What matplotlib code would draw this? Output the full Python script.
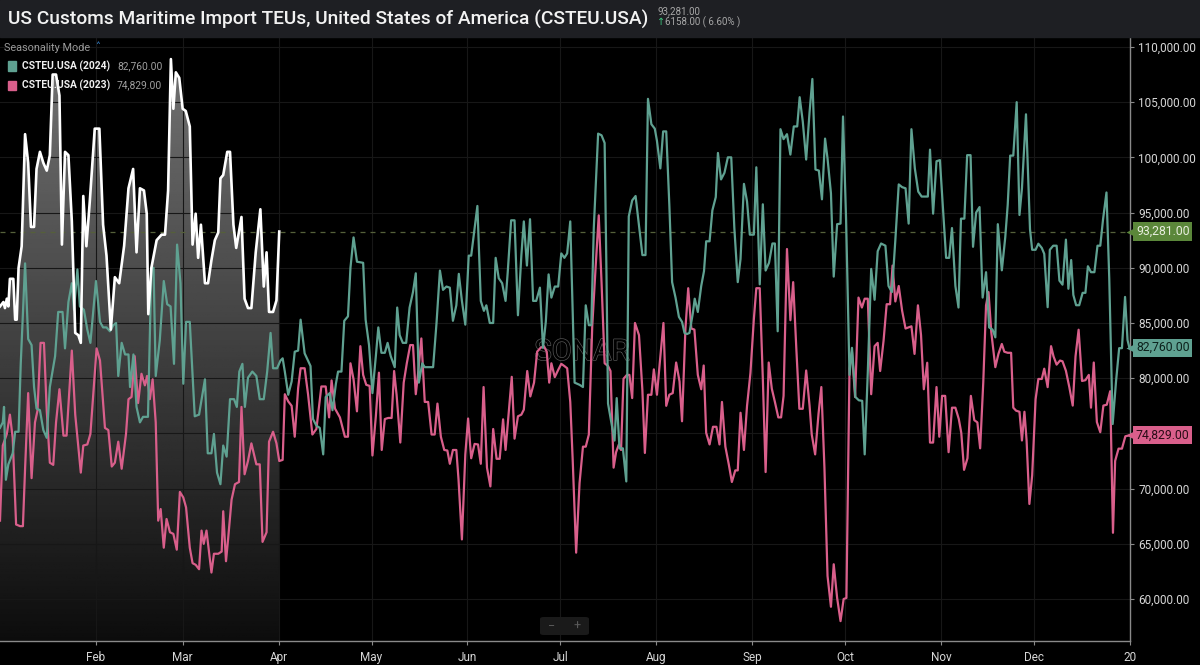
import numpy as np
import matplotlib
matplotlib.use('agg')
import matplotlib.pyplot as plt
import matplotlib.transforms as mtransforms
import matplotlib.patheffects as pe
from matplotlib.patches import Rectangle, Polygon, FancyBboxPatch

# day of year (0 = Jan 1) and daily TEUs
days_2025 = [0, 1.1, 1.6, 2.2, 2.7, 3.2, 4.3, 4.9, 5.4, 6.0, 7.0, 8.1, 9.1, 10.0, 11.0, 11.8, 12.9, 14.0, 15.1, 16.1,
             17.0, 18.1, 19.2, 20.0, 21.0, 22.1, 23.2, 24.3, 25.3, 26.1, 26.9, 27.9, 29.0, 30.6, 32.1, 33.3, 34.4, 35.8, 37.1, 38.5,
             40.1, 41.5, 43.0, 44.1, 45.2, 46.5, 47.4, 47.9, 48.9, 50.6, 52.2, 53.3, 54.3, 55.2, 56.0, 56.8, 57.9, 59.0, 60.0, 61.3,
             62.2, 63.2, 64.0, 64.9, 66.2, 67.2, 68.3, 69.4, 70.5, 71.2, 72.1, 73.4, 74.3, 75.4, 76.3, 78.0, 79.0, 80.1, 81.2, 82.6,
             84.1, 85.2, 86.1, 86.9, 88.2, 89.3, 90.2]
teu_2025 = [86500, 86900, 86350, 87200, 86500, 89000, 89000, 85300, 85300, 90000, 91950, 102100, 99500, 93700, 93700, 98950, 100500, 99500, 98800, 100200,
            107500, 107500, 105600, 92100, 100500, 100200, 94200, 84100, 83900, 83200, 96500, 91950, 96000, 102600, 102600, 93900, 91100, 84400, 89150, 88600,
            92000, 97200, 98950, 91400, 97200, 97000, 94900, 85800, 90000, 92500, 93000, 93000, 97000, 108900, 104400, 107700, 107200, 104400, 104200, 102800,
            92100, 94900, 90900, 93900, 88600, 88600, 90700, 92500, 93200, 98100, 98400, 100500, 100500, 93900, 91800, 94600, 87200, 86350, 86350, 91400,
            95300, 88300, 91400, 86000, 86000, 87050, 93281]

days_2024 = [0, 0.9, 1.3, 1.9, 2.7, 4.1, 4.9, 6.0, 6.7, 8.1, 9.1, 10.2, 11.0, 11.8, 12.9, 14.0, 15.1, 16.1, 17.8, 18.8,
             20.2, 21.0, 22.1, 23.2, 23.9, 25.0, 25.8, 27.1, 28.2, 29.2, 31.0, 32.3, 33.3, 34.4, 35.5, 36.6, 37.5, 38.2, 39.3, 40.4,
             41.5, 42.0, 43.1, 44.1, 45.2, 46.2, 47.8, 48.9, 49.6, 50.3, 51.6, 52.9, 54.0, 55.1, 56.2, 57.2, 58.3, 59.2, 60.1, 61.3,
             62.9, 64.3, 66.2, 67.1, 68.3, 69.1, 70.1, 71.2, 72.1, 73.2, 74.3, 75.6, 76.5, 77.3, 78.3, 79.1, 80.1, 81.5, 82.8, 83.9,
             85.2, 86.3, 87.4, 88.2, 89.5, 90.6, 91.3, 92.0, 93.1, 94.2, 95.2, 96.3, 97.1, 98.4, 100.3, 101.1, 102.2, 103.3, 104.4, 105.2,
             106.5, 107.4, 108.5, 109.2, 110.3, 111.2, 112.4, 113.2, 114.2, 115.3, 117.3, 118.1, 119.2, 120.3, 121.4, 122.2, 123.2, 124.3, 125.2, 126.2,
             127.5, 128.3, 129.1, 130.1, 131.2, 132.3, 133.4, 134.3, 135.3, 136.4, 137.2, 139.9, 141.0, 142.1, 143.1, 144.2, 145.3, 146.3, 147.4, 148.2,
             149.2, 150.3, 151.4, 152.2, 153.3, 154.2, 155.3, 156.3, 157.1, 158.2, 159.3, 160.1, 161.1, 162.2, 163.3, 164.0, 165.1, 166.2, 167.3, 168.4,
             169.2, 170.2, 171.2, 172.2, 173.2, 174.4, 175.4, 176.3, 177.2, 178.1, 179.2, 180.3, 181.3, 182.3, 183.2, 184.2, 185.6, 187.2, 188.3, 189.2,
             190.2, 191.0, 191.8, 193.2, 194.3, 195.3, 195.9, 196.4, 197.4, 198.5, 199.2, 200.1, 201.2, 202.3, 203.1, 204.2, 205.3, 206.4, 207.5, 208.5,
             209.3, 210.4, 211.5, 212.2, 213.3, 214.2, 215.2, 216.2, 217.1, 218.2, 219.3, 220.3, 221.1, 221.9, 222.7, 223.8, 224.4, 225.4, 226.5, 227.4,
             228.1, 229.2, 230.1, 231.2, 231.9, 232.9, 234.0, 235.1, 236.2, 237.2, 238.3, 239.2, 240.3, 241.3, 242.2, 243.5, 244.3, 245.4, 246.4, 247.3,
             248.4, 249.5, 250.3, 251.2, 252.1, 253.1, 254.2, 255.3, 256.4, 257.5, 258.3, 259.3, 260.4, 261.5, 262.4, 263.4, 264.5, 265.5, 266.5, 267.3,
             268.4, 269.3, 270.4, 271.5, 272.3, 273.3, 274.4, 275.2, 276.3, 277.4, 278.5, 279.3, 280.3, 281.4, 282.5, 283.5, 284.6, 286.0, 287.0, 288.1,
             289.2, 290.3, 291.4, 292.5, 293.5, 294.4, 295.5, 296.6, 297.7, 299.7, 300.4, 301.4, 302.5, 303.6, 304.7, 305.6, 306.6, 307.5, 308.6, 309.6,
             310.4, 311.5, 312.4, 313.5, 314.3, 315.3, 316.4, 317.4, 318.5, 319.5, 320.6, 321.5, 322.3, 323.6, 324.7, 325.5, 326.3, 327.3, 328.4, 329.3,
             330.1, 331.4, 332.2, 332.7, 333.4, 334.5, 335.4, 336.5, 337.3, 338.4, 339.1, 340.2, 341.3, 342.2, 343.2, 344.3, 345.1, 346.0, 346.7, 347.6,
             348.6, 349.7, 350.6, 351.4, 352.4, 353.5, 354.5, 355.4, 356.3, 357.4, 358.3, 359.4, 360.5, 361.5, 362.4, 363.4, 364.2, 364.8]
teu_2024 = [75500, 76000, 77400, 70800, 72200, 73200, 75150, 75150, 81300, 90400, 83550, 83000, 79200, 77250, 77100, 75300, 74600, 79200, 82000, 86000,
            86000, 82700, 86900, 88600, 86200, 89850, 86500, 86200, 84400, 83200, 88800, 85100, 84600, 84600, 84250, 84800, 85000, 80200, 83200, 82150,
            82150, 79200, 82150, 77400, 76000, 76500, 76500, 90000, 90000, 80200, 83400, 88800, 86700, 86500, 81300, 92100, 88600, 79500, 85100, 85100,
            76550, 76700, 79900, 73200, 73200, 74950, 71450, 70400, 73900, 72900, 78100, 78100, 77400, 80600, 81300, 77400, 80050, 80600, 80200, 78100,
            78100, 80600, 84100, 80900, 80900, 81600, 81800, 80600, 78500, 79700, 82400, 82500, 85300, 82250, 81100, 76300, 75700, 75500, 73100, 78300,
            78650, 77100, 79500, 80600, 80600, 85200, 85600, 90000, 92750, 90550, 90450, 85300, 83000, 78650, 82000, 84600, 82300, 82300, 83200, 82000,
            81000, 86400, 83900, 83200, 83200, 86400, 87800, 89500, 79600, 81350, 81000, 81000, 85000, 89750, 88000, 88300, 88200, 85200, 86600, 89450,
            87000, 84850, 91100, 91100, 93600, 95600, 87000, 86100, 86600, 85000, 85000, 90900, 89050, 88600, 87000, 89600, 94300, 94300, 85700, 91100,
            94200, 90200, 94400, 87000, 87000, 88200, 82750, 85100, 89400, 87300, 88300, 88300, 91300, 90900, 91300, 94200, 79600, 79400, 79200, 86600,
            84800, 84800, 93600, 102150, 102000, 101300, 89400, 77700, 76100, 74350, 78200, 73650, 73650, 70650, 94650, 96100, 96500, 93800, 91150, 91150,
            105300, 103000, 102600, 101500, 99000, 102350, 102350, 95700, 88700, 87300, 85550, 85100, 84100, 84000, 84100, 85900, 87200, 86000, 88350, 89700,
            92400, 92400, 95200, 96400, 100400, 98000, 98600, 100000, 100000, 93600, 88700, 90800, 97600, 96000, 93000, 93000, 99100, 88500, 95750, 89750,
            90450, 92200, 92200, 84250, 102550, 101650, 102100, 100250, 102800, 102800, 105450, 103250, 99800, 104100, 107100, 98900, 98800, 96200, 101700, 99900,
            96750, 89200, 93950, 94000, 103700, 94300, 80300, 82750, 78300, 78000, 77950, 73100, 80500, 89900, 87100, 91500, 92200, 92000, 88350, 87800,
            92500, 97550, 97300, 97200, 94000, 102550, 99000, 96900, 96450, 96450, 100700, 94900, 99650, 99750, 94800, 90900, 90900, 93600, 88350, 86400,
            94450, 94450, 100200, 100200, 91900, 95000, 95500, 87300, 89600, 84600, 84400, 83700, 93950, 89770, 92740, 95700, 100160, 100160, 105000, 94780,
            97200, 103900, 97560, 93480, 91630, 91630, 92180, 91800, 91260, 86430, 91630, 92000, 92000, 88840, 88470, 92550, 88100, 90700, 87540, 86610,
            86610, 87730, 87730, 90140, 89600, 89600, 92000, 92000, 94400, 96820, 89030, 75850, 79750, 82720, 82720, 87360, 83460, 82760]

days_2023 = [0, 0.9, 2.2, 3.2, 4.1, 5.2, 6.5, 7.4, 8.1, 9.1, 10.2, 11.3, 12.1, 13.1, 14.2, 15.1, 16.1, 17.2, 18.1, 19.2,
             20.5, 21.5, 23.2, 24.3, 26.1, 26.9, 28.2, 29.2, 31.2, 32.3, 33.9, 35.0, 36.1, 37.1, 38.2, 39.3, 40.7, 41.5, 42.5, 43.5,
             44.6, 45.7, 46.8, 47.5, 48.4, 49.3, 50.3, 51.1, 51.9, 52.9, 53.8, 54.9, 56.0, 57.1, 58.1, 59.2, 60.1, 61.3, 62.2, 63.2,
             64.3, 65.1, 65.8, 66.7, 67.6, 68.3, 69.1, 70.5, 71.6, 72.1, 73.0, 73.7, 74.8, 75.9, 77.2, 78.0, 79.0, 80.1, 81.2, 82.8,
             83.9, 84.8, 86.1, 86.9, 88.2, 89.3, 90.2, 91.3, 92.0, 93.1, 94.2, 95.2, 96.3, 97.1, 98.4, 99.5, 100.9, 102.2, 103.8, 105.2,
             106.3, 107.1, 108.2, 109.8, 111.4, 112.4, 113.2, 114.2, 115.3, 116.4, 117.3, 118.3, 119.4, 120.3, 121.4, 122.4, 123.3, 124.3, 125.4, 126.5,
             127.3, 128.1, 129.3, 130.4, 131.4, 132.5, 133.4, 134.3, 135.0, 136.1, 137.2, 138.3, 139.4, 140.4, 141.3, 142.4, 143.5, 144.5, 145.3, 146.3,
             147.4, 148.1, 149.2, 150.3, 151.2, 152.2, 153.3, 154.4, 155.3, 156.2, 157.3, 158.4, 159.3, 160.4, 161.4, 162.5, 163.3, 164.3, 165.3, 166.2,
             167.3, 168.4, 169.2, 170.3, 171.3, 172.5, 173.5, 174.6, 175.7, 176.6, 177.4, 178.1, 179.2, 180.3, 181.3, 182.3, 183.2, 184.2, 185.0, 186.1,
             187.2, 188.3, 189.2, 190.2, 191.3, 192.4, 193.4, 194.3, 195.3, 196.4, 197.2, 198.2, 199.0, 199.9, 200.6, 201.4, 202.5, 203.3, 204.2, 205.1,
             206.4, 207.5, 208.3, 209.3, 210.4, 211.2, 212.2, 213.1, 214.3, 215.2, 216.2, 217.3, 218.4, 219.5, 220.3, 221.4, 222.3, 223.3, 224.3, 225.4,
             226.5, 227.3, 228.1, 229.2, 230.3, 231.4, 232.4, 233.2, 234.3, 235.4, 236.4, 237.5, 238.3, 239.2, 240.3, 241.3, 242.4, 243.5, 244.3, 245.4,
             246.4, 247.3, 248.3, 249.3, 250.3, 251.4, 252.3, 253.1, 254.2, 255.3, 256.2, 257.2, 258.2, 259.3, 260.4, 261.5, 262.2, 263.3, 264.4, 265.3,
             266.3, 267.3, 268.4, 269.3, 270.4, 271.5, 272.5, 273.4, 274.4, 275.2, 276.2, 277.3, 278.4, 279.3, 280.3, 281.4, 282.5, 283.5, 284.3, 285.4,
             286.4, 287.5, 288.3, 289.2, 290.3, 291.4, 292.5, 293.5, 294.4, 295.4, 296.5, 297.5, 298.4, 299.5, 300.4, 301.4, 302.5, 303.4, 304.3, 305.3,
             306.4, 307.5, 308.6, 309.7, 310.5, 311.4, 312.5, 313.6, 314.7, 315.7, 316.6, 317.6, 318.5, 319.3, 320.2, 321.5, 322.5, 323.6, 324.4, 325.5,
             326.6, 327.3, 328.2, 329.3, 330.1, 330.9, 331.6, 332.5, 333.4, 334.5, 335.4, 336.5, 337.3, 338.4, 339.5, 340.3, 341.3, 342.4, 343.2, 344.3,
             345.4, 346.5, 347.4, 348.4, 349.5, 350.6, 351.7, 352.4, 353.3, 354.3, 355.4, 356.4, 357.5, 358.6, 359.5, 360.2, 361.3, 362.4, 363.5, 364.8]
teu_2023 = [67100, 73900, 74950, 76700, 74600, 66750, 66600, 66600, 71800, 78650, 70950, 76000, 77050, 83200, 83200, 77050, 72350, 72150, 76000, 79000,
            74800, 74800, 82500, 76700, 71450, 73900, 74000, 74950, 82700, 81600, 75500, 75300, 72000, 72350, 74250, 71800, 74950, 78100, 78300, 82000,
            77750, 80400, 79350, 80200, 78100, 79900, 76000, 67100, 68150, 64650, 67250, 66050, 65900, 64470, 69700, 69200, 68300, 64650, 63250, 63100,
            62700, 66200, 65000, 66200, 64100, 62400, 64100, 64100, 64300, 67950, 63425, 65500, 69000, 70400, 70600, 77400, 71300, 72500, 74100, 72200,
            72200, 65175, 66050, 74250, 75150, 74100, 72500, 72600, 78550, 77900, 77500, 74700, 79100, 80900, 80900, 78550, 74900, 75400, 79250, 79250,
            76450, 79800, 77250, 76450, 74700, 74700, 81350, 79900, 77000, 82900, 80300, 79400, 79300, 73000, 76550, 80500, 73500, 76300, 76400, 76400,
            80650, 78500, 74175, 79600, 81350, 83000, 83000, 78550, 80300, 83600, 77850, 77850, 74900, 74900, 77700, 74700, 73500, 73450, 72250, 73500,
            73500, 70850, 65400, 73100, 76350, 72750, 74050, 74000, 72250, 79200, 71900, 70200, 75400, 72700, 72700, 76275, 73500, 76800, 80125, 74525,
            76550, 76700, 77150, 80650, 78350, 79600, 82400, 82750, 82900, 82400, 79600, 81350, 80100, 80750, 81300, 81100, 80900, 77850, 72500, 64200,
            70500, 73800, 73800, 74900, 84700, 90100, 94750, 88700, 81350, 81100, 80650, 71900, 73300, 74000, 73500, 79950, 80300, 80300, 78200, 85000,
            83900, 78900, 73230, 78500, 78500, 80800, 78500, 81350, 85000, 77500, 78500, 78650, 81420, 79700, 76100, 84500, 88150, 84500, 84400, 80300,
            79000, 81150, 75050, 74000, 75600, 75600, 74000, 77850, 73800, 72200, 70600, 71650, 71650, 76870, 73500, 77500, 80475, 85350, 88150, 88150,
            79950, 71500, 81420, 79050, 77850, 76450, 76450, 78400, 91700, 85250, 88700, 82800, 77230, 77230, 80700, 77500, 74900, 73100, 76800, 79200,
            71900, 62100, 59300, 63150, 60100, 58000, 60000, 60100, 80900, 82400, 78300, 87300, 86400, 87200, 87200, 78550, 82900, 83200, 80650, 83400,
            86700, 86700, 90200, 86950, 88350, 86100, 84500, 84600, 84700, 82200, 86600, 83900, 79000, 81400, 74170, 74170, 79200, 74700, 78400, 78400,
            73300, 77330, 77330, 76300, 75050, 71700, 72750, 78400, 76200, 76000, 73650, 79600, 86600, 87800, 84150, 81000, 82200, 83100, 82400, 82300,
            82300, 77330, 77060, 76960, 74360, 76960, 74360, 68610, 71210, 78080, 79930, 79930, 80860, 79190, 82900, 81970, 81230, 81600, 81530, 80670,
            79190, 77520, 81970, 84390, 79750, 79820, 80300, 77330, 81420, 76030, 75110, 77520, 77600, 78820, 66000, 72510, 73620, 73620, 74740, 74829]

month_days = [31, 59, 90, 120, 151, 181, 212, 243, 273, 304, 334, 365]
month_labels = ['Feb', 'Mar', 'Apr', 'May', 'Jun', 'Jul', 'Aug', 'Sep', 'Oct', 'Nov', 'Dec', '20']
y_ticks = list(range(60000, 110001, 5000))

title = 'US Customs Maritime Import TEUs, United States of America (CSTEU.USA)'
last_close = 93281.00
change = 6158.00
change_pct = 6.60
legend_items = [('CSTEU.USA (2024)', 82760.00, '#5fa191'), ('CSTEU.USA (2023)', 74829.00, '#d95f8b')]

W, H = 1200, 665
def fx(px):
    return px / W
def fy(py):
    return 1 - py / H

plt.rcParams['font.family'] = ['Roboto', 'DejaVu Sans']

fig = plt.figure(figsize=(12, 6.65), dpi=100, facecolor='black')
ax = fig.add_axes([0, fy(641), fx(1130), (641 - 37) / H], facecolor='black')

y_lo, y_hi = 56200, 110900

# gradient area under the current-year line
grad = np.linspace(0.46, 0.05, 256).reshape(-1, 1)
img = ax.imshow(grad, cmap='gray', vmin=0, vmax=1, aspect='auto', origin='upper',
                extent=[days_2025[0], days_2025[-1], y_lo, y_hi], zorder=1)
verts = list(zip(days_2025, teu_2025)) + [(days_2025[-1], y_lo), (days_2025[0], y_lo)]
clip = Polygon(verts, closed=True, transform=ax.transData)
img.set_clip_path(clip)

ax.plot(days_2023, teu_2023, color='#d95f8b', lw=1.6, zorder=3)
ax.plot(days_2024, teu_2024, color='#5fa191', lw=1.6, zorder=4)
ax.plot(days_2025, teu_2025, color='white', lw=1.9, zorder=5)

ax.axhline(last_close, color='#55603a', lw=0.9, ls=(0, (4, 4)), zorder=2)

ax.set_xlim(0, 365)
ax.set_ylim(y_lo, y_hi)

ax.set_xticks(month_days)
ax.set_xticklabels(month_labels)
ax.set_yticks(y_ticks)
ax.set_yticklabels([f'{v:,.2f}' for v in y_ticks])
ax.yaxis.tick_right()
ax.tick_params(axis='both', colors='#8a8a8a', labelcolor='#d6d6d6', labelsize=8.5, length=3, width=0.8)
ax.tick_params(axis='y', pad=3)
ax.tick_params(axis='x', pad=4)
ax.grid(True, color='#171717', lw=0.8, zorder=0)
for side in ['top', 'left']:
    ax.spines[side].set_visible(False)
for side in ['right', 'bottom']:
    ax.spines[side].set_color('#8a8a8a')
    ax.spines[side].set_linewidth(1.0)

# watermark
ax.text(0.515, fy(352), 'SONAR', transform=mtransforms.blended_transform_factory(ax.transAxes, fig.transFigure),
        ha='center', va='center', fontsize=21, color='black', zorder=2.5,
        path_effects=[pe.Stroke(linewidth=1.0, foreground='#555555'), pe.Normal()])

# price tags on the right axis
tag_tr = mtransforms.blended_transform_factory(ax.transAxes, ax.transData)
tags = [(last_close, '#5b873a', '#e8eedf'), (legend_items[0][1], '#5fa191', '#0c211c'),
        (legend_items[1][1], '#d95f8b', '#2a0c17')]
for val, fc, tc in tags:
    ax.text(1 + 6 / 1130, val, f'{val:,.2f}', transform=tag_tr, ha='left', va='center',
            fontsize=8.8, color=tc, clip_on=False, zorder=10,
            bbox=dict(boxstyle='square,pad=0.22', fc=fc, ec='none'))
    ax.plot([1 + 1 / 1130], [val], marker='<', ms=7, color=fc, mec='none',
            transform=tag_tr, clip_on=False, zorder=10)

# header band
fig.patches.append(Rectangle((0, fy(37)), 1, 37 / H, transform=fig.transFigure,
                             color='#1e1f23', zorder=0))
title_txt = fig.text(fx(8), fy(19), title, ha='left', va='center', fontsize=16, color='#f2f2f2',
                     fontweight='medium')
# shrink the title so that it ends where the reference one does
fig.canvas.draw()
tw = title_txt.get_window_extent().width
title_txt.set_fontsize(16 * 642 / tw)

fig.text(fx(657), fy(11), f'{last_close:,.2f}', ha='left', va='center', fontsize=7, color='#a8a8a8')
fig.text(fx(657), fy(22), '\u2191', ha='left', va='center', fontsize=7, color='#3cc47c',
         family=['DejaVu Sans'])
fig.text(fx(665), fy(22), f'{change:.2f} ( {change_pct:.2f}% )', ha='left', va='center',
         fontsize=7, color='#a8a8a8')

# legend block
fig.text(fx(4), fy(48), 'Seasonality Mode', ha='left', va='center', fontsize=7.8, color='#9a9a9a')
fig.text(fx(95), fy(47), '\u02c4', ha='left', va='center', fontsize=7, color='#3a8fe0',
         family=['DejaVu Sans'])
for i, (name, val, col) in enumerate(legend_items):
    yc = 66 + 19 * i
    fig.patches.append(Rectangle((fx(8), fy(yc + 4.5)), 8 / W, 9 / H, transform=fig.transFigure,
                                 color=col, zorder=5))
    fig.text(fx(22), fy(yc), name, ha='left', va='center', fontsize=7.4, color='#f0f0f0',
             fontweight='bold', zorder=6)
    fig.text(fx(117), fy(yc), f'{val:,.2f}', ha='left', va='center', fontsize=7.4, color='#a0a0a0',
             zorder=6)

# zoom buttons
fig.patches.append(FancyBboxPatch((fx(540), fy(635)), 49 / W, 18 / H, transform=fig.transFigure,
                                  boxstyle='round,pad=0,rounding_size=0.003', fc='#1a1a1a', ec='none',
                                  zorder=6))
fig.text(fx(552), fy(626), '\u2212', ha='center', va='center', fontsize=9, color='#5a5a5a', zorder=7)
fig.text(fx(577), fy(626), '+', ha='center', va='center', fontsize=9, color='#5a5a5a', zorder=7)

fig.savefig('out.png', dpi=100, facecolor='black')
